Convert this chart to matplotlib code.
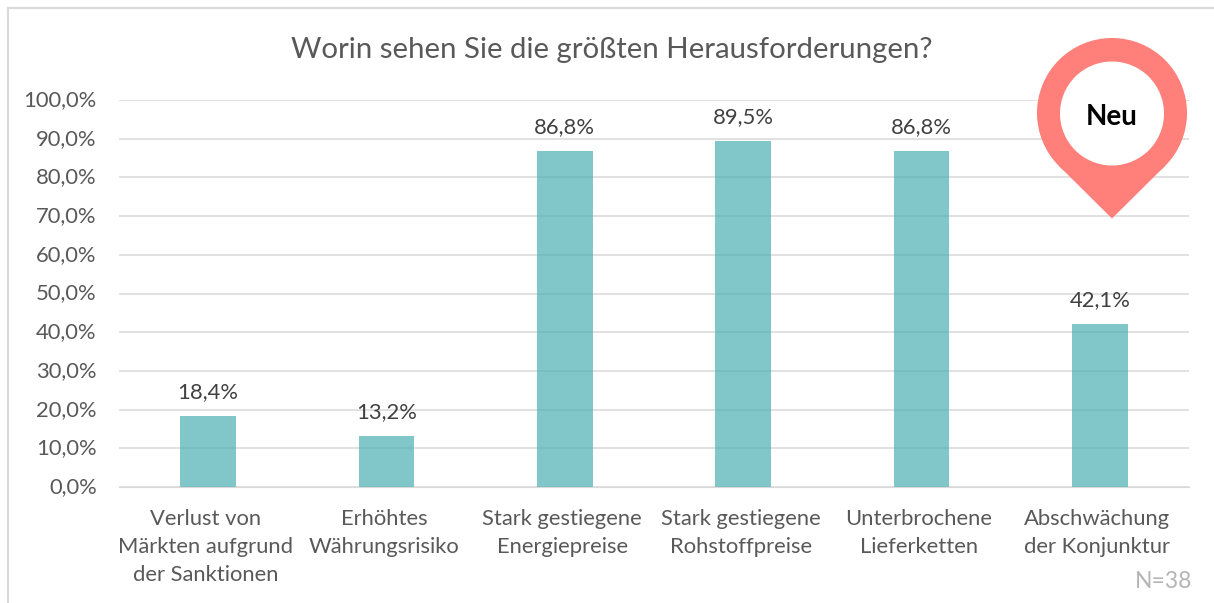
import matplotlib
matplotlib.use("Agg")
import matplotlib.pyplot as plt
from matplotlib.patches import Circle, Polygon
from matplotlib.transforms import ScaledTranslation

TITLE = "Worin sehen Sie die größten Herausforderungen?"
CATEGORIES = ["Verlust von\nMärkten aufgrund\nder Sanktionen", "Erhöhtes\nWährungsrisiko",
              "Stark gestiegene\nEnergiepreise", "Stark gestiegene\nRohstoffpreise",
              "Unterbrochene\nLieferketten", "Abschwächung\nder Konjunktur"]
VALUES = [18.4, 13.2, 86.8, 89.5, 86.8, 42.1]
YTICKS = [0, 10, 20, 30, 40, 50, 60, 70, 80, 90, 100]

W, H = 1214, 603
plt.rcParams["font.family"] = ["Lato", "DejaVu Sans"]

fig = plt.figure(figsize=(W / 100, H / 100), dpi=100, facecolor="white")
# Plotbereich in Pixeln: x 119-1189, y 100-487
ax = fig.add_axes([119 / W, 1 - 487 / H, (1189 - 119) / W, (487 - 100) / H])
x = range(len(VALUES))
ax.bar(x, VALUES, width=0.314, color="#4cafb1", alpha=0.7, zorder=2)
ax.set_xlim(-0.5, 5.5)
ax.set_ylim(0, 100)
ax.set_yticks(YTICKS)
ax.set_yticklabels([f"{v:.1f}%".replace(".", ",") for v in YTICKS], fontsize=15.8, color="#595959",
                   va="center")
ax.set_xticks(list(x))
ax.set_xticklabels(CATEGORIES, fontsize=15.8, color="#595959", linespacing=1.53)
ax.tick_params(length=0)
ax.tick_params(axis="x", pad=15.5)
ax.tick_params(axis="y", pad=16)
ax.grid(axis="y", color="#d9d9d9", linewidth=1.1, zorder=1)
for s in ["top", "right", "left"]:
    ax.spines[s].set_visible(False)
ax.spines["bottom"].set_color("#d9d9d9")

# Achsenbeschriftungen sitzen im Original etwas links von der Balkenmitte
shift = ScaledTranslation(-2.5 / 100, 0, fig.dpi_scale_trans)
for lab in ax.get_xticklabels():
    lab.set_transform(lab.get_transform() + shift)

for i, v in zip(x, VALUES):
    ax.annotate(f"{v:.1f}%".replace(".", ","), (i, v), xytext=(0, 14), textcoords="offset pixels",
                ha="center", va="bottom", fontsize=15.8, color="#404040")

fig.text(612 / W, 1 - 50 / H, TITLE, ha="center", va="center", fontsize=21.2, color="#595959")
fig.text(1164 / W, 1 - 581 / H, "N=38", ha="center", va="center", fontsize=16.5, color="#b5b5b5")

# Rahmen links/oben und Markierung "Neu" in Pixelkoordinaten
overlay = fig.add_axes([0, 0, 1, 1], facecolor="none")
overlay.set_xlim(0, W)
overlay.set_ylim(H, 0)
overlay.axis("off")
overlay.plot([7.5, 7.5], [603, 7.5], color="#d9d9d9", linewidth=1.5)
overlay.plot([7.5, 1214], [7.5, 7.5], color="#d9d9d9", linewidth=1.5)
overlay.add_patch(Polygon([[1059, 166], [1165, 166], [1112, 218.5]], color="#ff7f7a", lw=0))
overlay.add_patch(Circle((1112, 113), 75, color="#ff7f7a", lw=0))
overlay.add_patch(Circle((1112, 113.5), 52, color="white", lw=0))
overlay.text(1112, 117, "Neu", ha="center", va="center", fontsize=20, fontweight="bold", color="black")

fig.savefig("out.png", dpi=100)
